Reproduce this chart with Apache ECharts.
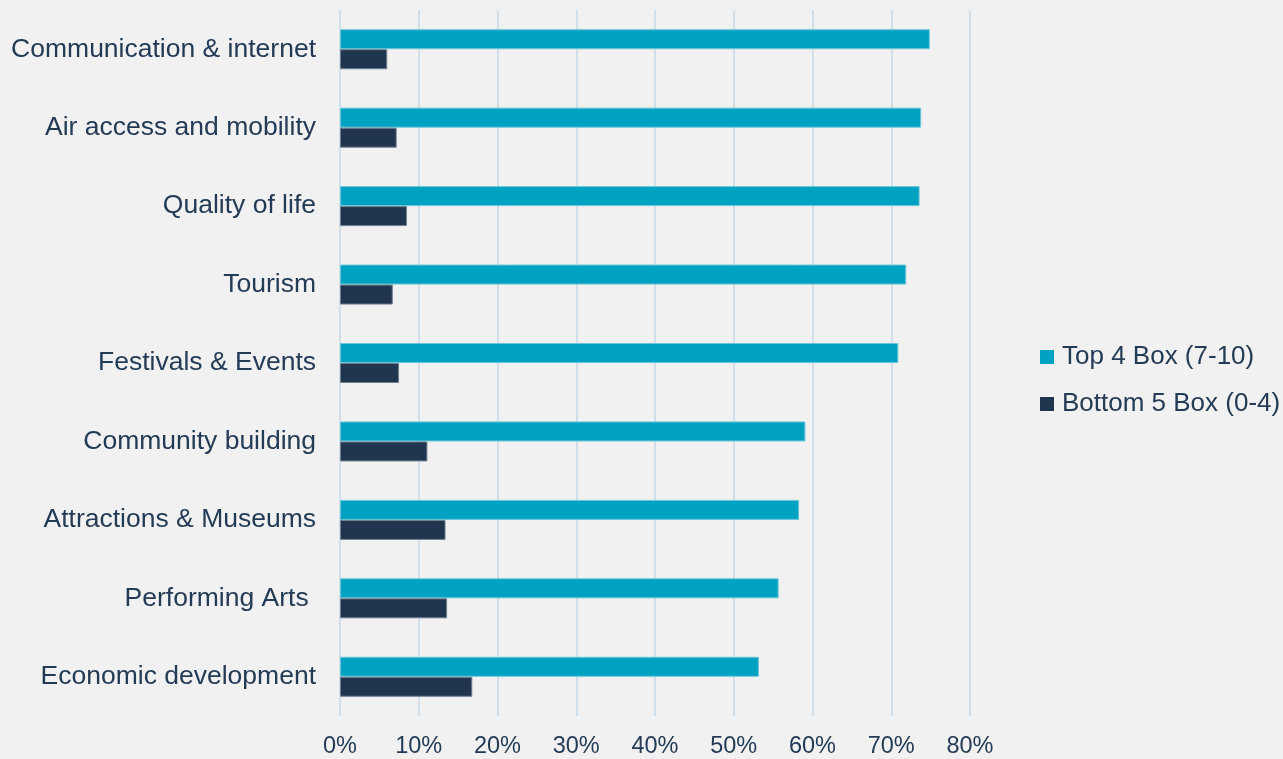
<!DOCTYPE html>
<html>
<head>
<meta charset="utf-8">
<script src="https://cdn.jsdelivr.net/npm/echarts@6/dist/echarts.min.js"></script>
<style>
  html, body { margin: 0; padding: 0; background: #f1f1f1; overflow: hidden; }
  #chart { width: 1283px; height: 759px; }
</style>
</head>
<body>
<div id="chart"></div>
<script>
// Service areas, listed top to bottom
const categories = [
  'Communication & internet',
  'Air access and mobility',
  'Quality of life',
  'Tourism',
  'Festivals & Events',
  'Community building',
  'Attractions & Museums',
  'Performing Arts ',
  'Economic development'
];

// Share of respondents (%)
const top4Box = [74.9, 73.8, 73.6, 71.9, 70.9, 59.1, 58.3, 55.7, 53.2];
const bottom5Box = [6.0, 7.2, 8.5, 6.7, 7.5, 11.1, 13.4, 13.6, 16.8];

const seriesNames = ['Top 4 Box (7-10)', 'Bottom 5 Box (0-4)'];

const textColor = '#243b55';
const fontFamily = '"Liberation Sans", Arial, sans-serif';

const chart = echarts.init(document.getElementById('chart'), null, { renderer: 'canvas', width: 1283, height: 759 });

chart.setOption({
  backgroundColor: '#f1f1f1',
  animation: false,
  textStyle: { fontFamily: fontFamily, color: textColor },
  grid: { left: 340, width: 630, top: 10, height: 711, containLabel: false },
  legend: {
    orient: 'vertical',
    left: 1035,
    top: 339,
    itemWidth: 14,
    itemHeight: 14,
    itemGap: 21,
    icon: 'rect',
    itemStyle: { borderWidth: 0 },
    textStyle: { fontSize: 26, lineHeight: 26, color: textColor, fontFamily: fontFamily, padding: [0, 0, 0, 3] },
    data: seriesNames
  },
  xAxis: {
    type: 'value',
    min: 0,
    max: 80,
    interval: 10,
    axisLine: { show: false },
    axisTick: { show: false },
    splitLine: { show: true, lineStyle: { color: '#d1dfea', width: 2 } },
    axisLabel: {
      formatter: '{value}%',
      fontSize: 23.5,
      color: textColor,
      fontFamily: fontFamily,
      margin: 19
    }
  },
  yAxis: {
    type: 'category',
    inverse: true,
    data: categories,
    axisLine: { show: false },
    axisTick: { show: false },
    splitLine: { show: false },
    axisLabel: {
      fontSize: 26.5,
      color: textColor,
      fontFamily: fontFamily,
      margin: 24
    }
  },
  series: [
    {
      name: seriesNames[0],
      type: 'bar',
      data: top4Box,
      barWidth: 20,
      barGap: '0%',
      itemStyle: { color: '#00a2c1', borderColor: '#6cc6da', borderWidth: 1 }
    },
    {
      name: seriesNames[1],
      type: 'bar',
      data: bottom5Box,
      barWidth: 20,
      barGap: '0%',
      itemStyle: { color: '#20364e', borderColor: '#6f8090', borderWidth: 1 }
    }
  ]
});
</script>
</body>
</html>
